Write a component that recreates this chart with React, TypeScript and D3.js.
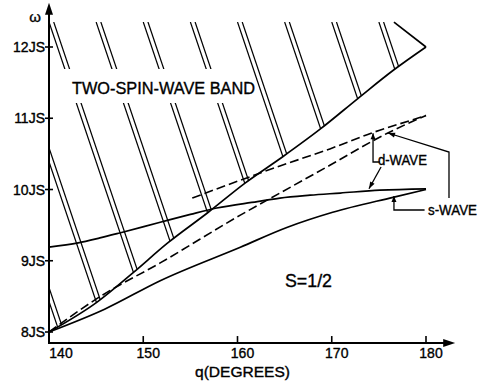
import * as d3 from 'd3';

const W = 478;
const H = 383;

// q in degrees, omega in units of JS
const qTicks = [140, 150, 160, 170, 180];
const wTicks = [8, 9, 10, 11, 12];
const wTickLabels = ['8JS', '9JS', '10JS', '11JS', '12JS'];

// lower edge of the two-spin-wave band
const bandLower: [number, number][] = [
  [140, 8.0], [145.1, 8.42], [148.9, 8.83], [152.6, 9.25], [156.8, 9.67], [160.8, 10.09],
  [164.8, 10.46], [168.8, 10.85], [172.8, 11.28], [176.6, 11.68], [180, 12.0],
];
// where the drawn band stops at the top
const bandUpper: [number, number][] = [[140, 12.35], [176.6, 12.35], [180, 12.0]];

const solidUpper: [number, number][] = [
  [140, 9.19], [143.1, 9.25], [145.4, 9.32], [147.5, 9.39], [151.8, 9.54], [155.0, 9.65],
  [157.8, 9.74], [162.1, 9.83], [164.5, 9.88], [167.7, 9.92], [170.9, 9.95], [175.1, 9.99], [180, 10.01],
];
const solidLower: [number, number][] = [
  [140, 8.0], [145.9, 8.32], [151.8, 8.72], [160.3, 9.19], [165.3, 9.47], [170.1, 9.68],
  [176.5, 9.89], [180, 10.0],
];
const dashedUpper: [number, number][] = [
  [155.2, 9.88], [160.3, 10.13], [164.5, 10.33], [169.8, 10.57], [174.6, 10.81], [178.6, 10.98], [180, 11.04],
];
const dashedLower: [number, number][] = [
  [140, 8.0], [145.7, 8.52], [151.8, 8.97], [160.3, 9.64], [164.5, 9.95], [169.8, 10.34],
  [175.9, 10.79], [180, 11.04],
];

// hatching of the band: pairs of lines, q where each pair meets the top
const hatchStarts = [130, 135, 140, 145, 150, 155, 160, 165, 170, 175];
const HATCH_TOP = 12.35;
const HATCH_RUN = 2.55; // degrees per JS
const PAIR_GAP = 0.5;

// label pointers (q, omega)
const dBracket: [number, number][] = [[174.38, 10.79], [174.38, 10.386], [175.1, 10.386]];
const dPointer: [number, number][] = [[175.23, 10.316], [173.95, 10.01]];
const sBracket: [number, number][] = [[176.6, 9.91], [176.6, 9.712], [179.85, 9.712]];
const sPointer: [number, number][] = [[182.44, 9.88], [182.44, 10.526], [175.97, 10.793]];

const x = d3.scaleLinear().domain([140, 180]).range([49, 426]);
const y = d3.scaleLinear().domain([8, 12]).range([332, 47]);
const W_FLOOR = 7.845;
const W_ARROW = 12.62;
const Q_ARROW = 183.1;

const smooth = d3
  .line<[number, number]>()
  .x((d) => x(d[0]))
  .y((d) => y(d[1]))
  .curve(d3.curveMonotoneX);
const straight = d3
  .line<[number, number]>()
  .x((d) => x(d[0]))
  .y((d) => y(d[1]));

function hatchQ(q0: number, w: number) {
  return q0 + HATCH_RUN * (HATCH_TOP - w);
}

function arrowHead(tip: number[], from: number[], len = 7, half = 2.6) {
  const dx = tip[0] - from[0];
  const dy = tip[1] - from[1];
  const n = Math.hypot(dx, dy);
  const ux = dx / n;
  const uy = dy / n;
  const bx = tip[0] - ux * len;
  const by = tip[1] - uy * len;
  return `${tip[0]},${tip[1]} ${bx - uy * half},${by + ux * half} ${bx + uy * half},${by - ux * half}`;
}

const FONT = "'Liberation Sans', Arial, sans-serif";

export default function App() {
  const bandPath =
    (smooth(bandLower) as string) +
    bandUpper
      .slice(0, 2)
      .reverse()
      .map((d) => `L${x(d[0])},${y(d[1])}`)
      .join('') +
    'Z';

  // gap in the hatching behind the band label
  const labelQ = 142.44;
  const labelW = 11.34;
  const base = y(labelW);
  const gapTop = base - 25;
  const gapBot = base + 9;
  const gapRight = (py: number) => x(hatchQ(159.8, y.invert(py)));
  const gap = `40,${gapTop} ${gapRight(gapTop)},${gapTop} ${gapRight(gapBot)},${gapBot} 40,${gapBot}`;

  const hatchLines: { q: number }[] = [];
  hatchStarts.forEach((q0) => {
    hatchLines.push({ q: q0 });
    hatchLines.push({ q: q0 + PAIR_GAP });
  });

  const px = (p: [number, number]) => [x(p[0]), y(p[1])];
  const poly = (pts: [number, number][]) => pts.map((p) => px(p).join(',')).join(' ');

  const x0 = x(140);
  const yAxis = y(W_FLOOR);

  return (
    <svg
      width={W}
      height={H}
      style={{ position: 'absolute', left: 0, top: 0, background: '#fff' }}
      fontFamily={FONT}
    >
      <rect width={W} height={H} fill="#fff" />
      <defs>
        <mask id="hatchMask" maskUnits="userSpaceOnUse" x={0} y={0} width={W} height={H}>
          <path d={bandPath} fill="#fff" />
          <polygon points={gap} fill="#000" />
        </mask>
      </defs>

      <g mask="url(#hatchMask)" stroke="#000" strokeWidth={1.2}>
        {hatchLines.map((h, i) => (
          <line
            key={i}
            x1={x(h.q)}
            y1={y(HATCH_TOP)}
            x2={x(hatchQ(h.q, 7.8))}
            y2={y(7.8)}
          />
        ))}
      </g>

      <g fill="none" stroke="#000" strokeWidth={1.7} strokeLinejoin="round">
        <path d={smooth(bandLower) as string} />
        <path d={straight(bandUpper.slice(1)) as string} />
        <path d={smooth(solidUpper) as string} />
        <path d={smooth(solidLower) as string} />
        <path d={smooth(dashedUpper) as string} strokeDasharray="9,4" strokeWidth={1.6} />
        <path d={smooth(dashedLower) as string} strokeDasharray="9,4" strokeWidth={1.6} />
      </g>

      {/* axes */}
      <g stroke="#000" strokeWidth={2}>
        <line x1={x0} y1={yAxis} x2={x0} y2={y(W_ARROW) + 8} />
        <line x1={x0 - 1} y1={yAxis} x2={x(Q_ARROW) - 8} y2={yAxis} />
        {qTicks.slice(1).map((t) => (
          <line key={t} x1={x(t)} x2={x(t)} y1={yAxis} y2={yAxis - 7} strokeWidth={1.6} />
        ))}
        {wTicks.map((t) => (
          <line key={t} x1={x0 - 4} x2={x0 + 4} y1={y(t)} y2={y(t)} strokeWidth={1.6} />
        ))}
      </g>
      <polygon points={arrowHead([x0, y(W_ARROW)], [x0, yAxis], 12, 4)} fill="#000" />
      <polygon points={arrowHead([x(Q_ARROW), yAxis], [x0, yAxis], 12, 4)} fill="#000" />

      <g fill="#000" stroke="#000" strokeWidth={0.35}>
        <g fontSize={14}>
          {wTicks.map((t, i) => (
            <text key={t} x={x0 - 4} y={y(t) + 5} textAnchor="end">
              {wTickLabels[i]}
            </text>
          ))}
          {qTicks.map((t, i) => (
            <text key={t} x={x(t) + (i === 0 ? 12 : 5)} y={yAxis + 15} textAnchor="middle">
              {t}
            </text>
          ))}
          <text x={195} y={yAxis + 34} textLength={95} lengthAdjust="spacingAndGlyphs">
            q(DEGREES)
          </text>
          <text x={x0 - 14} y={y(W_ARROW) + 19} textAnchor="middle" fontSize={15}>
            ω
          </text>
        </g>

        <text x={x(labelQ)} y={base} fontSize={16.5} textLength={183} lengthAdjust="spacingAndGlyphs">
          TWO-SPIN-WAVE BAND
        </text>
        <text x={x(165.04)} y={y(8.63)} fontSize={18} textLength={47} lengthAdjust="spacingAndGlyphs">
          S=1/2
        </text>
        <text x={x(174.9)} y={y(10.344)} fontSize={14} textLength={49} lengthAdjust="spacingAndGlyphs">
          d-WAVE
        </text>
        <text x={x(180.21)} y={y(9.642)} fontSize={14} textLength={49} lengthAdjust="spacingAndGlyphs">
          s-WAVE
        </text>
      </g>

      {/* pointers to the curves */}
      <g fill="none" stroke="#000" strokeWidth={1.3}>
        <polyline points={poly(dBracket)} />
        <polyline points={poly(dPointer)} />
        <polyline points={poly(sBracket)} />
        <polyline points={poly(sPointer)} />
      </g>
      <g fill="#000">
        <polygon points={arrowHead(px(dBracket[0]), px(dBracket[1]), 6, 2.5)} />
        <polygon points={arrowHead(px(dPointer[1]), px(dPointer[0]), 7, 2.5)} />
        <polygon points={arrowHead(px(sBracket[0]), px(sBracket[1]), 6, 2.5)} />
        <polygon points={arrowHead(px(sPointer[2]), px(sPointer[1]), 7, 2.5)} />
      </g>
    </svg>
  );
}
